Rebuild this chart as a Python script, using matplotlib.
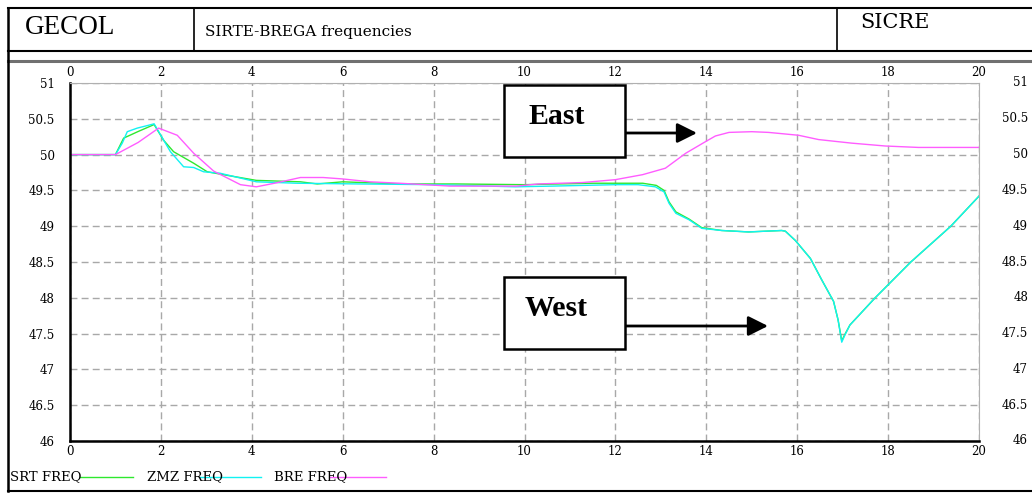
import numpy as np
import matplotlib.pyplot as plt
from matplotlib.lines import Line2D
from matplotlib.patches import Rectangle

# ---- frequency traces (time in s, frequency in Hz) ----
t_srt = [0, 1.0, 1.18, 1.49, 1.78, 1.85, 2.06, 2.28, 2.72, 3.02, 3.46, 4.1,
         5.07, 5.44, 6.0, 7.26, 8.5, 10.0, 11.5, 12.6, 12.9, 13.07, 13.18,
         13.33, 13.62, 13.9, 14.34, 14.93, 15.66, 15.74, 15.96, 16.29, 16.54,
         16.8, 16.9, 16.98, 17.05, 17.16, 17.7, 18.5, 19.38, 20]
f_srt = [50, 50, 50.23, 50.32, 50.40, 50.42, 50.2, 50.04, 49.88, 49.76, 49.71,
         49.64, 49.62, 49.59, 49.62, 49.59, 49.59, 49.58, 49.6, 49.6, 49.57,
         49.5, 49.34, 49.2, 49.1, 48.98, 48.94, 48.92, 48.94, 48.93, 48.8,
         48.55, 48.25, 47.95, 47.69, 47.40, 47.49, 47.62, 47.99, 48.5, 49.0,
         49.42]

t_zmz = [0, 1.0, 1.15, 1.26, 1.48, 1.73, 1.85, 2.21, 2.5, 2.72, 2.94, 3.3,
         4.1, 5.0, 6.38, 8.0, 9.8, 10.6, 12.0, 12.5, 12.88, 13.07, 13.18,
         13.33, 13.62, 13.9, 14.34, 14.93, 15.66, 15.74, 15.96, 16.29, 16.54,
         16.8, 16.9, 16.98, 17.05, 17.16, 17.7, 18.5, 19.38, 20]
f_zmz = [50, 50, 50.16, 50.32, 50.37, 50.41, 50.43, 50.04, 49.83, 49.82,
         49.76, 49.74, 49.62, 49.6, 49.59, 49.58, 49.55, 49.56, 49.58, 49.58,
         49.55, 49.48, 49.32, 49.18, 49.09, 48.97, 48.94, 48.92, 48.94, 48.93,
         48.8, 48.55, 48.25, 47.95, 47.69, 47.38, 47.48, 47.62, 47.99, 48.5,
         49.0, 49.42]

t_bre = [0, 1.0, 1.5, 1.95, 2.36, 2.72, 3.16, 3.75, 4.1, 4.5, 5.07, 5.57, 6.0,
         6.6, 7.26, 8.36, 9.83, 10.3, 11.28, 12.0, 12.6, 13.1, 13.55, 13.98,
         14.2, 14.5, 15.0, 15.37, 16.03, 16.47, 17.2, 17.94, 18.67, 20]
f_bre = [50, 50, 50.17, 50.37, 50.27, 50.02, 49.77, 49.58, 49.55, 49.6, 49.68,
         49.68, 49.66, 49.62, 49.6, 49.56, 49.56, 49.59, 49.61, 49.65, 49.72,
         49.81, 50.02, 50.18, 50.26, 50.31, 50.32, 50.31, 50.27, 50.21, 50.16,
         50.12, 50.1, 50.1]

x_ticks = list(range(0, 21, 2))
y_ticks = [46, 46.5, 47, 47.5, 48, 48.5, 49, 49.5, 50, 50.5, 51]
y_labels = ['46', '46.5', '47', '47.5', '48', '48.5', '49', '49.5', '50', '50.5', '51']

series = [('SRT FREQ', t_srt, f_srt, '#2ee82e'),
          ('ZMZ FREQ', t_zmz, f_zmz, '#12f2f2'),
          ('BRE FREQ', t_bre, f_bre, '#ff5cff')]

W, H = 1032, 496
fig = plt.figure(figsize=(W / 100, H / 100), dpi=100)


def fx(px):
    return px / W


def fy(py):
    return 1 - py / H


ax_l, ax_r, ax_t, ax_b = 70, 979, 83, 441
ax = fig.add_axes([fx(ax_l), fy(ax_b), fx(ax_r) - fx(ax_l), fy(ax_t) - fy(ax_b)])

for name, t, f, col in series:
    ax.plot(t, f, color=col, lw=1.0)

ax.set_xlim(0, 20)
ax.set_ylim(46, 51)
ax.set_xticks(x_ticks)
ax.set_yticks(y_ticks)
ax.set_yticklabels(y_labels)
ax.grid(True, color='#a8a8a8', ls=(0, (5, 3)), lw=1.0)
ax.tick_params(length=0, labelsize=8.5)
ax.tick_params(axis='x', labeltop=True, pad=3)
ax.tick_params(axis='y', pad=11)
for lab in ax.get_xticklabels() + ax.get_yticklabels():
    lab.set_family('DejaVu Serif')
for t_ in ax.xaxis.get_major_ticks():
    t_.label2.set_family('DejaVu Serif')

# right-hand frequency labels, right-aligned against the page edge
x_right = (1028 - ax_l) / (ax_r - ax_l)
for v, s in zip(y_ticks, y_labels):
    ax.text(x_right, v, s, transform=ax.get_yaxis_transform(), ha='right',
            va='center', family='DejaVu Serif', fontsize=8.5, clip_on=False)

ax.spines['left'].set_linewidth(1.8)
ax.spines['bottom'].set_linewidth(1.8)
ax.spines['top'].set_color('#b0b0b0')
ax.spines['right'].set_color('#b0b0b0')

# ---- page frame ----
frame = [((8, W), (8, 8), 'black', 1.5),
         ((8, W), (51, 51), 'black', 1.5),
         ((8, W), (61, 61), '#707070', 2.2),
         ((8, W), (491, 491), 'black', 1.5),
         ((8, 8), (8, 491), 'black', 1.8),
         ((194, 194), (8, 51), 'black', 1.2),
         ((837, 837), (8, 51), 'black', 1.2)]
for xs, ys, c, lw in frame:
    fig.add_artist(Line2D([fx(v) for v in xs], [fy(v) for v in ys],
                          transform=fig.transFigure, color=c, lw=lw))

fig.text(fx(25), fy(28), 'GECOL', family='Liberation Serif', fontsize=19.5,
         va='center', ha='left')
fig.text(fx(205), fy(32), 'SIRTE-BREGA frequencies', family='DejaVu Serif',
         fontsize=11, va='center', ha='left')
fig.text(fx(860), fy(22), 'SICRE', family='DejaVu Serif', fontsize=15,
         va='center', ha='left')

# ---- legend row ----
legend_pos = [(10, 80, 133), (147, 200, 261), (274, 330, 386)]
for (name, t, f, col), (tx, l0, l1) in zip(series, legend_pos):
    fig.text(fx(tx), fy(477), name, family='DejaVu Serif', fontsize=9.5,
             va='center', ha='left')
    fig.add_artist(Line2D([fx(l0), fx(l1)], [fy(477), fy(477)],
                          transform=fig.transFigure, color=col, lw=1.0))

# ---- East / West callouts ----
callouts = [('East', 504, 85, 625, 157, 133, 697),
            ('West', 504, 277, 625, 349, 326, 768)]
for label, x0, y0, x1, y1, ya, xtip in callouts:
    fig.add_artist(Rectangle((fx(x0), fy(y1)), fx(x1) - fx(x0),
                             fy(y0) - fy(y1), transform=fig.transFigure,
                             fill=True, fc='white', ec='black', lw=1.8))
    fig.text(fx((x0 + x1) / 2 - 8), fy((y0 + y1) / 2 - 5), label,
             family='Liberation Serif', weight='bold', fontsize=21.5,
             ha='center', va='center')
    ax.annotate('', xy=(fx(xtip), fy(ya)), xytext=(fx(x1), fy(ya)),
                xycoords='figure fraction', textcoords='figure fraction',
                arrowprops=dict(arrowstyle='-|>,head_length=0.6,head_width=0.3',
                                mutation_scale=20, color='black', lw=2,
                                shrinkA=0, shrinkB=0))

fig.savefig('out.png', dpi=100)
